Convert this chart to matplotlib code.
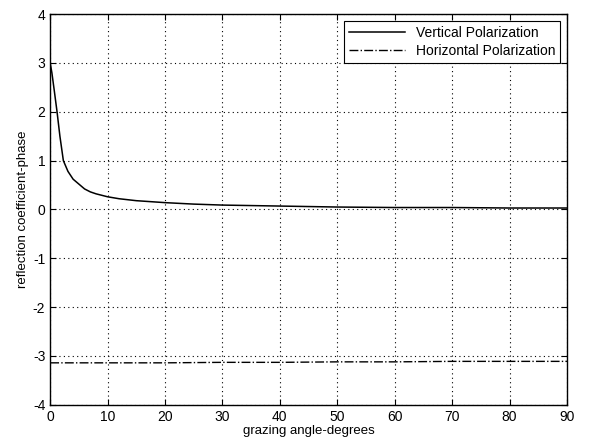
import numpy as np
import matplotlib.pyplot as plt

plt.rcParams['font.family'] = ['Liberation Sans', 'DejaVu Sans']
plt.rcParams['axes.unicode_minus'] = False

# grazing angle (degrees) and reflection coefficient phase
angulo_v = [0, 0.3, 0.7, 1.2, 1.7, 2.3, 3.1, 4, 5.2, 6, 7, 8, 10, 12, 15,
            20, 25, 30, 40, 50, 60, 70, 80, 90]
fase_v = [3.0, 2.8, 2.45, 2.0, 1.5, 1.0, 0.78, 0.62, 0.5, 0.42, 0.36, 0.32,
          0.26, 0.22, 0.18, 0.14, 0.11, 0.09, 0.07, 0.05, 0.04, 0.04, 0.03, 0.03]

angulo_h = [0, 10, 20, 30, 40, 50, 60, 70, 80, 90]
fase_h = [-3.14, -3.14, -3.14, -3.13, -3.13, -3.12, -3.12, -3.11, -3.11, -3.11]

fig = plt.figure(figsize=(5.9, 4.41), dpi=100)
ax = fig.add_axes([0.085, 0.082, 0.876, 0.886])

ax.plot(angulo_v, fase_v, color='black', linewidth=1.1, linestyle='-',
        label='Vertical Polarization')
ax.plot(angulo_h, fase_h, color='black', linewidth=1.0, linestyle='-.',
        label='Horizontal Polarization')

ax.set_xlim(0, 90)
ax.set_ylim(-4, 4)
ax.set_xticks(np.arange(0, 91, 10))
ax.set_yticks(np.arange(-4, 5, 1))
ax.grid(True, linestyle=(0, (1, 3)), color='black', linewidth=0.8)
ax.tick_params(direction='in', labelsize=10, top=True, right=True, length=4)
for s in ax.spines.values():
    s.set_linewidth(1.0)

ax.set_xlabel('grazing angle-degrees', fontsize=9.5, labelpad=1)
ax.set_ylabel('reflection coefficient-phase', fontsize=9.5, labelpad=3)

leg = ax.legend(loc='upper right', fontsize=10, frameon=True, fancybox=False,
                edgecolor='black', framealpha=1, handlelength=4,
                borderaxespad=0.5, labelspacing=0.3, borderpad=0.35)
leg.get_frame().set_linewidth(0.8)

fig.savefig('out.png', dpi=100)
